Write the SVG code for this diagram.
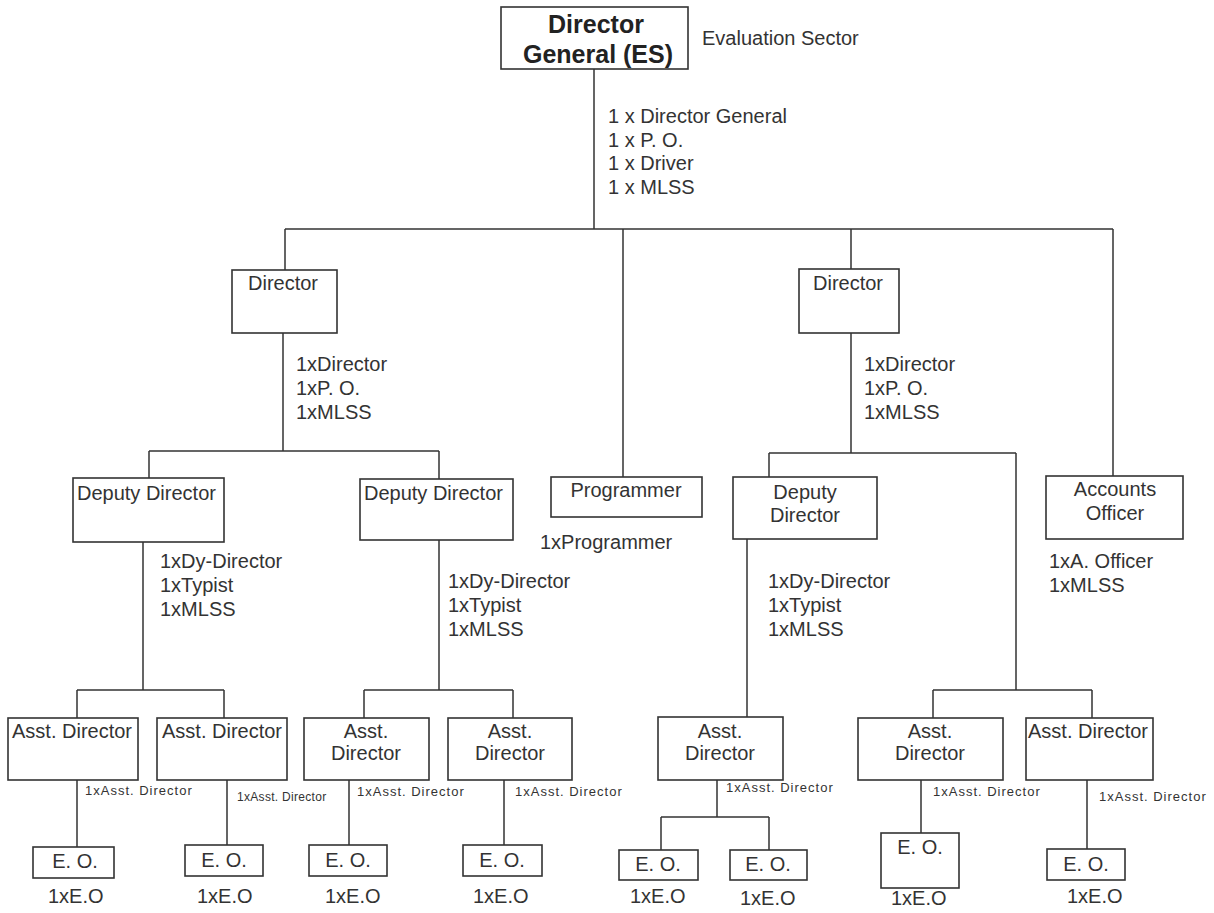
<svg xmlns="http://www.w3.org/2000/svg" width="1214" height="913" viewBox="0 0 1214 913">
<style>
.box{fill:#fff;stroke:#333;stroke-width:1.6}
.ln{stroke:#333;stroke-width:1.5;fill:none}
text{font-family:"Liberation Sans",Arial,sans-serif;font-size:20px;fill:#333}
.b{font-weight:bold;font-size:25px;fill:#222}
.c{text-anchor:middle}
.s{font-size:13px;letter-spacing:1px}
.s2{font-size:12px;letter-spacing:0.3px}
</style>
<rect width="1214" height="913" fill="#fff"/>
<g id="connectors">
<path class="ln" d="M594 69V229 M285 229H1113 M285 229V270 M851 229V269 M623 229V477 M1113 229V476"/>
<path class="ln" d="M283 333V451 M149 451H439 M149 451V478 M439 451V479"/>
<path class="ln" d="M143 542V690 M77 690H224 M77 690V718 M224 690V718"/>
<path class="ln" d="M439 540V690 M364 690H513 M364 690V718 M513 690V718"/>
<path class="ln" d="M851 333V453 M769 453H1016 M769 453V477 M1016 453V690 M933 690H1092 M933 690V718 M1092 690V718"/>
<path class="ln" d="M747 539V717 M717 780V817 M661 817H769 M661 817V850 M769 817V850"/>
<path class="ln" d="M77 780V847 M227 780V845 M349 780V845 M504 780V845 M921 780V852 M1087 780V849"/>
</g>
<g id="dg"><rect class="box" x="501" y="7" width="187" height="62"/><text class="b c" x="596" y="33">Director</text><text class="b c" x="598" y="63">General (ES)</text></g>
<g id="dg-note"><text x="702" y="45">Evaluation Sector</text>
<text x="608" y="123">1 x Director General</text><text x="608" y="146.5">1 x P. O.</text><text x="608" y="170">1 x Driver</text><text x="608" y="193.5">1 x MLSS</text></g>
<g id="dir1"><rect class="box" x="232" y="270" width="105" height="63"/><text x="248" y="290">Director</text>
<text x="296" y="371">1xDirector</text><text x="296" y="395">1xP. O.</text><text x="296" y="419">1xMLSS</text></g>
<g id="dir2"><rect class="box" x="799" y="269" width="100" height="64"/><text x="813" y="290">Director</text>
<text x="864" y="371">1xDirector</text><text x="864" y="395">1xP. O.</text><text x="864" y="419">1xMLSS</text></g>
<g id="dd1"><rect class="box" x="73" y="478" width="151" height="64"/><text x="77" y="500">Deputy Director</text>
<text x="160" y="568">1xDy-Director</text><text x="160" y="592">1xTypist</text><text x="160" y="616">1xMLSS</text></g>
<g id="dd2"><rect class="box" x="360" y="479" width="153" height="61"/><text x="364" y="500">Deputy Director</text>
<text x="448" y="588">1xDy-Director</text><text x="448" y="612">1xTypist</text><text x="448" y="636">1xMLSS</text></g>
<g id="prog"><rect class="box" x="551" y="477" width="151" height="40"/><text class="c" x="626" y="497">Programmer</text>
<text x="540" y="549">1xProgrammer</text></g>
<g id="dd3"><rect class="box" x="733" y="477" width="144" height="62"/><text class="c" x="805" y="499">Deputy</text><text class="c" x="805" y="522">Director</text>
<text x="768" y="588">1xDy-Director</text><text x="768" y="612">1xTypist</text><text x="768" y="636">1xMLSS</text></g>
<g id="acc"><rect class="box" x="1046" y="476" width="137" height="63"/><text class="c" x="1115" y="496">Accounts</text><text class="c" x="1115" y="520">Officer</text>
<text x="1049" y="568">1xA. Officer</text><text x="1049" y="592">1xMLSS</text></g>
<g id="ad1"><rect class="box" x="8" y="718" width="130" height="62"/><text x="12" y="738">Asst. Director</text><text class="s" x="85" y="795">1xAsst. Director</text></g>
<g id="ad2"><rect class="box" x="157" y="718" width="130" height="62"/><text x="162" y="738">Asst. Director</text><text class="s2" x="237" y="801">1xAsst. Director</text></g>
<g id="ad3"><rect class="box" x="304" y="718" width="125" height="62"/><text class="c" x="366" y="738">Asst.</text><text class="c" x="366" y="760">Director</text><text class="s" x="357" y="796">1xAsst. Director</text></g>
<g id="ad4"><rect class="box" x="448" y="718" width="124" height="62"/><text class="c" x="510" y="738">Asst.</text><text class="c" x="510" y="760">Director</text><text class="s" x="515" y="796">1xAsst. Director</text></g>
<g id="ad5"><rect class="box" x="658" y="717" width="125" height="63"/><text class="c" x="720" y="738">Asst.</text><text class="c" x="720" y="760">Director</text><text class="s" x="726" y="792">1xAsst. Director</text></g>
<g id="ad6"><rect class="box" x="858" y="718" width="145" height="62"/><text class="c" x="930" y="738">Asst.</text><text class="c" x="930" y="760">Director</text><text class="s" x="933" y="796">1xAsst. Director</text></g>
<g id="ad7"><rect class="box" x="1026" y="718" width="127" height="62"/><text x="1028" y="738">Asst. Director</text><text class="s" x="1099" y="801">1xAsst. Director</text></g>
<g id="eo1"><rect class="box" x="33" y="847" width="81" height="31"/><text class="c" x="75" y="868">E. O.</text><text x="48" y="903">1xE.O</text></g>
<g id="eo2"><rect class="box" x="185" y="845" width="78" height="31"/><text class="c" x="224" y="867">E. O.</text><text x="197" y="903">1xE.O</text></g>
<g id="eo3"><rect class="box" x="309" y="845" width="78" height="31"/><text class="c" x="348" y="867">E. O.</text><text x="325" y="903">1xE.O</text></g>
<g id="eo4"><rect class="box" x="463" y="845" width="79" height="31"/><text class="c" x="502" y="867">E. O.</text><text x="473" y="903">1xE.O</text></g>
<g id="eo5"><rect class="box" x="619" y="850" width="79" height="30"/><text class="c" x="658" y="871">E. O.</text><text x="630" y="903">1xE.O</text></g>
<g id="eo6"><rect class="box" x="730" y="850" width="77" height="30"/><text class="c" x="768" y="871">E. O.</text><text x="740" y="905">1xE.O</text></g>
<g id="eo7"><rect class="box" x="881" y="833" width="78" height="55"/><text class="c" x="920" y="854">E. O.</text><text x="891" y="905">1xE.O</text></g>
<g id="eo8"><rect class="box" x="1047" y="849" width="78" height="31"/><text class="c" x="1086" y="871">E. O.</text><text x="1067" y="903">1xE.O</text></g>
</svg>
